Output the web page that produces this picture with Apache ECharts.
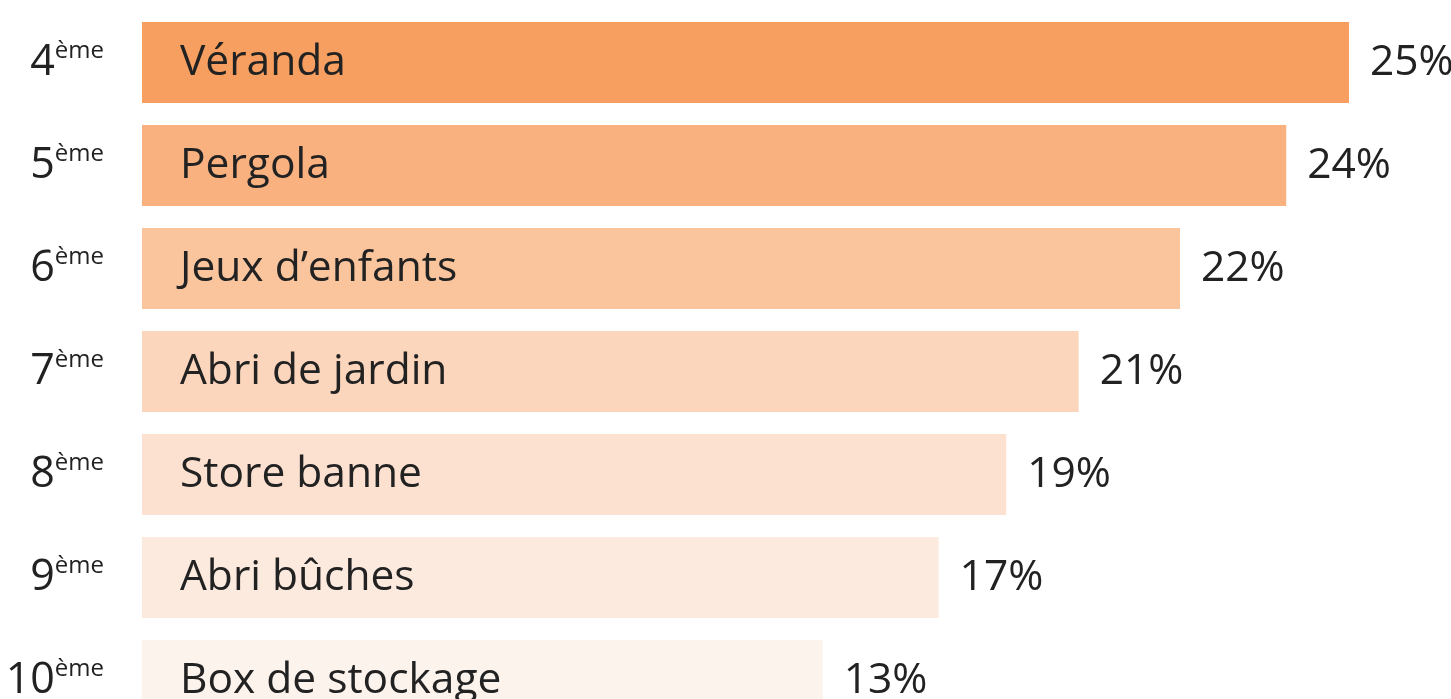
<!DOCTYPE html>
<html>
<head>
<meta charset="utf-8">
<script src="https://cdn.jsdelivr.net/npm/echarts@6/dist/echarts.min.js"></script>
<style>
  html, body { margin: 0; padding: 0; background: #fff; }
  #chart { width: 1451px; height: 699px; }
</style>
</head>
<body>
<div id="chart"></div>
<script>
const ranks = ['4', '5', '6', '7', '8', '9', '10']
const names = ['Véranda', 'Pergola', 'Jeux d\u2019enfants', 'Abri de jardin', 'Store banne', 'Abri bûches', 'Box de stockage']
// bar lengths as drawn in the picture (labels are rounded differently)
const barValues = [25, 23.7, 21.5, 19.4, 17.9, 16.5, 14.1]
const valueLabels = ['25%', '24%', '22%', '21%', '19%', '17%', '13%']
const colors = ['#F79F60', '#F9B17F', '#FAC49C', '#FBD6BC', '#FCE1D0', '#FCEADF', '#FDF3ED']

const chart = echarts.init(document.getElementById('chart'))
const textColor = '#222222'
const font = '"Open Sans", "Noto Sans", sans-serif'

chart.setOption({
  animation: false,
  backgroundColor: '#ffffff',
  // last row runs off the bottom edge, like the original crop
  grid: { left: 142, width: 1207, top: 11, height: 721, outerBoundsMode: 'none', containLabel: false },
  xAxis: {
    type: 'value',
    min: 0,
    max: 25,
    show: false
  },
  yAxis: {
    type: 'category',
    inverse: true,
    data: ranks,
    axisLine: { show: false },
    axisTick: { show: false },
    axisLabel: {
      margin: 38,
      formatter: v => `{n|${v}}{s|ème}`,
      rich: {
        n: { fontFamily: font, fontSize: 43, color: textColor, lineHeight: 46 },
        s: { fontFamily: font, fontSize: 24, color: textColor, verticalAlign: 'top', lineHeight: 26 }
      }
    }
  },
  series: [
    {
      type: 'bar',
      barWidth: 81,
      data: barValues.map((v, i) => ({ value: v, itemStyle: { color: colors[i] } })),
      label: {
        show: true,
        position: 'right',
        distance: 21,
        fontFamily: font,
        fontSize: 42.5,
        color: textColor,
        formatter: p => valueLabels[p.dataIndex]
      }
    },
    {
      type: 'bar',
      barWidth: 81,
      barGap: '-100%',
      silent: true,
      data: barValues,
      itemStyle: { color: 'rgba(0,0,0,0)' },
      label: {
        show: true,
        position: 'insideLeft',
        distance: 38,
        fontFamily: font,
        fontSize: 42.5,
        color: textColor,
        formatter: p => names[p.dataIndex]
      }
    }
  ]
})
</script>
</body>
</html>
